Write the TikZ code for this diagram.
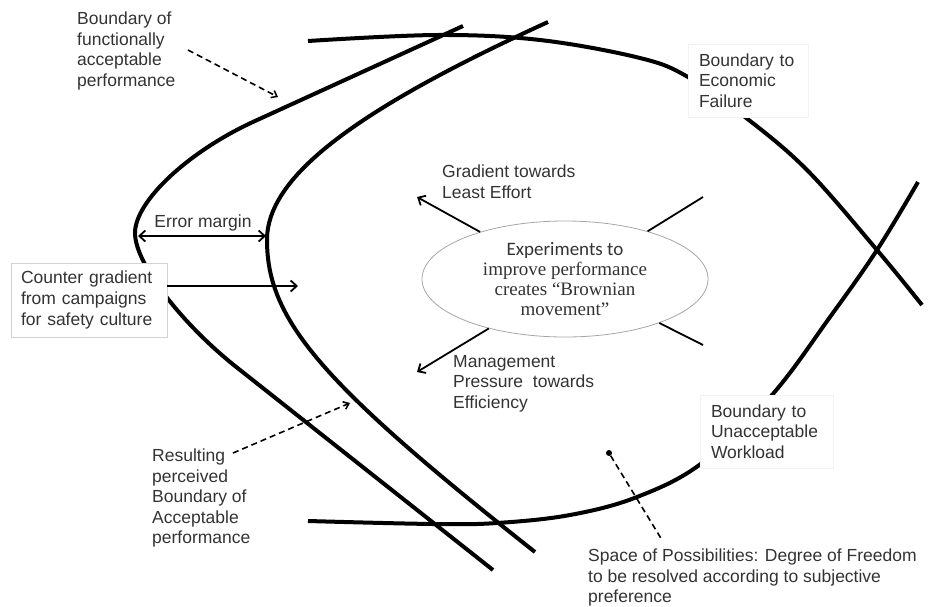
\documentclass[tikz,border=0pt]{standalone}
\usepackage{fontspec}
\setmainfont{Liberation Sans}
\newfontfamily\serifface{Liberation Serif}
\newfontfamily\calface{Carlito}
\usetikzlibrary{arrows.meta,shapes.geometric}
\definecolor{txt}{gray}{0.2}
\begin{document}
\begin{tikzpicture}[x=1pt,y=-1pt,
  bound/.style={line width=4pt},
  lbl/.style={font=\fontsize{17.5}{20.5}\selectfont, text=txt, align=left, inner sep=0pt, anchor=north west},
  boxlbl/.style={font=\fontsize{17.5}{20.5}\selectfont, text=txt, align=left, fill=white, inner ysep=0pt},
  arr/.style={line width=1.8pt, -{Straight Barb[length=6pt,width=11pt]}},
  dbl/.style={line width=1.8pt, {Straight Barb[length=6pt,width=11pt]}-{Straight Barb[length=6pt,width=11pt]}},
  dsh/.style={line width=1.6pt, dash pattern=on 6pt off 4pt},
  darr/.style={dsh, -{Straight Barb[length=5pt,width=8pt]}}
]
\useasboundingbox (0,0) rectangle (929,606);

% boundaries
\draw[bound] plot[smooth, tension=0.6] coordinates {(308,41) (437,35) (540,40) (640,58) (688,77) (745,117) (807,170) (877,250) (922,305)};
\draw[bound] plot[smooth, tension=0.6] coordinates {(308,521) (433,524) (497,523) (570,515) (637,497) (702,463) (772,395) (830,317) (877,250) (918,182)};
% functionally acceptable boundary (outer)
\draw[bound] (463,26) -- (255,121)
  .. controls (189,151) and (135,201) .. (135,233)
  .. controls (135,263) and (180,322) .. (235,366)
  -- (493,570);
% perceived boundary (inner)
\draw[bound] (548,22)
  .. controls (351,112) and (267,178) .. (267,240)
  .. controls (267,320) and (321,383) .. (535,552);

% boxes
\node[boxlbl, draw=gray!10, minimum width=120pt, minimum height=73pt, text width=98pt, inner xsep=11pt] (econ) at (748,80.5) {Boundary to\\Economic\\Failure};
\node[boxlbl, draw=gray!35, font=\fontsize{17.5}{21}\selectfont, minimum width=156pt, minimum height=74pt, text width=136pt, inner xsep=10pt] (cg) at (89,300) {Counter gradient\\from campaigns\\for safety culture};
\node[boxlbl, draw=gray!10, minimum width=133pt, minimum height=73pt, text width=111pt, inner xsep=11pt] (work) at (766.5,431.5) {Boundary to\\Unacceptable\\Workload};

% ellipse
\node[ellipse, draw=gray!70, line width=0.8pt, minimum width=286pt, minimum height=116pt, inner sep=0pt, align=center, text=txt, font=\fontsize{19}{20}\selectfont] (ell) at (565,279)
  {{\calface Experiments to}\\{\serifface improve performance}\\{\serifface creates “Brownian}\\{\serifface movement”}};

% coordinates
\coordinate (gl) at (417,197);
\coordinate (gr) at (703,197);
\coordinate (ml) at (417,372);
\coordinate (mr) at (703,345);
\coordinate (emL) at (138,236);
\coordinate (emR) at (266,236);
\coordinate (ca) at (298,286);
\coordinate (fs) at (188,50);
\coordinate (fe) at (278,97);
\coordinate (rs) at (233,453);
\coordinate (re) at (350,403);
\coordinate (se) at (662,540);

% arrows
\draw[arr] (ell.151) -- (gl);
\draw[line width=1.8pt] (ell.30) -- (gr);
\draw[arr] (ell.213) -- (ml);
\draw[line width=1.8pt] (ell.-25) -- (mr);
\draw[dbl] (emL) -- (emR);
\draw[arr] (cg.east |- ca) -- (ca);
\draw[darr] (fs) -- (fe);
\draw[darr] (rs) -- (re);
\node[circle, fill=black, inner sep=0pt, minimum size=6pt] (dot) at (609,453) {};
\draw[dsh] (dot) -- (se);

% labels
\node[lbl] (func) at (77,12) {Boundary of\\functionally\\acceptable\\performance};
\node[lbl, anchor=center] (err) at (203,223) {Error margin};
\node[lbl] (grad) at (442,165) {Gradient towards\\Least Effort};
\node[lbl] (mgmt) at (453,355) {Management\\Pressure\ \ towards\\Efficiency};
\node[lbl] (res) at (152,449) {Resulting\\perceived\\Boundary of\\Acceptable\\performance};
\node[lbl] (space) at (588,549) {Space of Possibilities: Degree of Freedom\\to be resolved according to subjective\\preference};
\end{tikzpicture}
\end{document}
